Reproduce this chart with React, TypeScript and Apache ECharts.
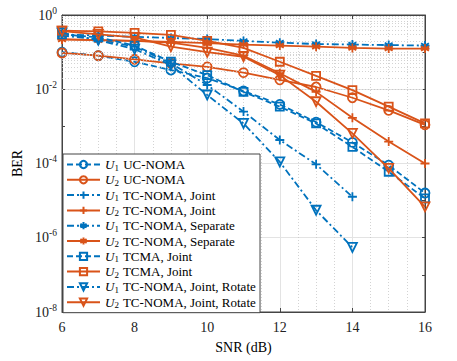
import React, { useEffect, useRef } from "react";
import * as echarts from "echarts";

const snr = [6, 7, 8, 9, 10, 11, 12, 13, 14, 15, 16];
const u1UC = [0.1, 0.08, 0.055, 0.033, 0.02, 0.009, 0.0039, 0.0013, 3.7e-4, 9e-5, 1.6e-5];
const u2UC = [0.095, 0.08, 0.064, 0.05, 0.04, 0.028, 0.018, 0.0115, 0.0059, 0.0027, 0.0011];
const u1Joint = [0.28, 0.22, 0.14, 0.05, 0.013, 0.0025, 4.3e-4, 9.5e-5, 1.27e-5];
const u2Joint = [0.22, 0.21, 0.2, 0.18, 0.13, 0.08, 0.027, 0.0085, 0.0017, 3.9e-4, 1e-4];
const u1Sep = [0.3, 0.28, 0.26, 0.24, 0.225, 0.2, 0.18, 0.165, 0.16, 0.155, 0.15];
const u2Sep = [0.22, 0.21, 0.2, 0.19, 0.175, 0.16, 0.15, 0.14, 0.13, 0.125, 0.125];
const u1TCMA = [0.3, 0.25, 0.15, 0.055, 0.024, 0.0085, 0.0034, 0.0012, 2.8e-4, 6e-5, 1.15e-5];
const u2TCMA = [0.38, 0.36, 0.33, 0.29, 0.2, 0.13, 0.055, 0.023, 0.0095, 0.0034, 0.0012];
const u1Rot = [0.33, 0.21, 0.12, 0.045, 0.007, 0.0012, 1.1e-4, 5.5e-6, 5.5e-7];
const u2Rot = [0.37, 0.3, 0.25, 0.14, 0.1, 0.075, 0.024, 0.0046, 6.5e-4, 7.4e-5, 6.8e-6];

const seriesNames = [
  "U1 UC-NOMA",
  "U2 UC-NOMA",
  "U1 TC-NOMA, Joint",
  "U2 TC-NOMA, Joint",
  "U1 TC-NOMA, Separate",
  "U2 TC-NOMA, Separate",
  "U1 TCMA, Joint",
  "U2 TCMA, Joint",
  "U1 TC-NOMA, Joint, Rotate",
  "U2 TC-NOMA, Joint, Rotate",
];
const seriesData = [u1UC, u2UC, u1Joint, u2Joint, u1Sep, u2Sep, u1TCMA, u2TCMA, u1Rot, u2Rot];

const BLUE = "#0072BD";
const ORANGE = "#D95319";
const FONT = "'Liberation Serif', 'Times New Roman', serif";

const PLUS = "path://M0,-1L0,1M-1,0L1,0";
const STAR = "path://M0,-1L0,1M-0.87,-0.5L0.87,0.5M-0.87,0.5L0.87,-0.5M-1,0L1,0";
const TRI_DOWN = "path://M-1,-0.85L1,-0.85L0,0.9Z";
const symbols = ["circle", "circle", PLUS, PLUS, STAR, STAR, "rect", "rect", TRI_DOWN, TRI_DOWN];
const dashU1: any[] = [[6, 3], [7, 3, 2, 3], [7, 3, 2, 3], [6, 3], [7, 3, 2, 3]];

export default function App() {
  const ref = useRef<HTMLDivElement>(null);
  useEffect(() => {
    if (!ref.current) return;
    const chart = echarts.init(ref.current, undefined, { renderer: "svg" });

    const minor: any[] = [];
    for (let n = -8; n < 0; n++) {
      for (let k = 2; k <= 9; k++) minor.push({ yAxis: k * Math.pow(10, n) });
      if (n % 2 !== 0) minor.push({ yAxis: Math.pow(10, n) });
    }

    const series: any[] = seriesNames.map((name, i) => {
      const isU1 = i % 2 === 0;
      const color = isU1 ? BLUE : ORANGE;
      const data = seriesData[i].map((v, j) => [snr[j], v]);
      return {
        name,
        type: "line",
        data,
        symbol: symbols[i],
        symbolSize: symbols[i] === "rect" ? 8 : 9,
        showSymbol: true,
        z: 3 + i,
        lineStyle: {
          color,
          width: 1.8,
          type: isU1 ? dashU1[i / 2] : "solid",
        },
        itemStyle: { color: "rgba(0,0,0,0)", borderColor: color, borderWidth: 1.8 },
      };
    });
    series.push({
      name: "__grid",
      type: "line",
      data: [],
      silent: true,
      markLine: {
        silent: true,
        symbol: ["none", "none"],
        label: { show: false },
        lineStyle: { color: "#c8c8c8", width: 0.8, type: [1, 2] },
        data: minor,
      },
      z: 1,
    });

    const rich = {
      i: { fontFamily: FONT, fontStyle: "italic", fontSize: 13, color: "#000" },
      sub: { fontFamily: FONT, fontSize: 9, color: "#000", padding: [6, 1, 0, 0] },
      t: { fontFamily: FONT, fontSize: 13, color: "#000" },
    };

    chart.setOption({
      animation: false,
      textStyle: { fontFamily: FONT },
      grid: {
        left: 62,
        right: 32,
        top: 15,
        bottom: 49,
        show: true,
        borderColor: "#444",
        borderWidth: 1,
      },
      legend: {
        data: seriesNames,
        orient: "vertical",
        left: 63,
        top: 154,
        itemWidth: 33,
        itemHeight: 9,
        itemGap: 1.3,
        padding: [4, 4, 3, 3],
        backgroundColor: "#fff",
        borderColor: "#444",
        borderWidth: 1,
        borderRadius: 0,
        formatter: (name: string) => {
          const u = name.slice(1, 2);
          return "{i|U}{sub|" + u + "}{t|" + name.slice(2) + "}";
        },
        textStyle: { fontFamily: FONT, rich, padding: [0, 0, 0, 0] },
      },
      xAxis: [
        {
          type: "value",
          min: 6,
          max: 16,
          interval: 2,
          name: "SNR (dB)",
          nameLocation: "middle",
          nameGap: 28,
          nameTextStyle: { fontFamily: FONT, fontSize: 14, color: "#000" },
          axisLine: { show: true, lineStyle: { color: "#444" } },
          axisTick: { inside: true, length: 4, lineStyle: { color: "#444" } },
          minorTick: { show: true, splitNumber: 4, length: 0 },
          axisLabel: { fontFamily: FONT, fontSize: 14, color: "#222", margin: 8 },
          splitLine: { show: true, lineStyle: { color: "#e3e3e3", width: 1 } },
          minorSplitLine: { show: true, lineStyle: { color: "#c8c8c8", width: 0.8, type: [1, 2] } },
        },
        {
          type: "value",
          position: "top",
          min: 6,
          max: 16,
          interval: 2,
          axisLine: { show: true, lineStyle: { color: "#444" } },
          axisTick: { inside: true, length: 4, lineStyle: { color: "#444" } },
          axisLabel: { show: false },
          splitLine: { show: false },
        },
      ],
      yAxis: [
        {
          type: "log",
          logBase: 10,
          min: 1e-8,
          max: 1,
          splitNumber: 8,
          name: "BER",
          nameLocation: "middle",
          nameGap: 37,
          nameRotate: 90,
          nameTextStyle: { fontFamily: FONT, fontSize: 14, color: "#000" },
          axisLine: { show: true, lineStyle: { color: "#444" } },
          axisTick: { inside: true, length: 3, lineStyle: { color: "#444" } },
          axisLabel: {
            margin: 5,
            fontFamily: FONT,
            formatter: (v: number) => {
              const e = Math.round(Math.log10(v));
              if (e % 2 !== 0) return "";
              return "{b|10}{s|" + e + "}";
            },
            rich: {
              b: { fontFamily: FONT, fontSize: 14, color: "#222" },
              s: { fontFamily: FONT, fontSize: 9.5, color: "#222", padding: [0, 0, 9, 0] },
            },
          },
          splitLine: { show: true, lineStyle: { color: ["#e3e3e3", "rgba(0,0,0,0)"], width: 1 } },
        },
        {
          type: "log",
          logBase: 10,
          position: "right",
          min: 1e-8,
          max: 1,
          splitNumber: 8,
          axisLine: { show: true, lineStyle: { color: "#444" } },
          axisTick: { inside: true, length: 3, lineStyle: { color: "#444" } },
          axisLabel: { show: false },
          splitLine: { show: false },
        },
      ],
      series,
    });
    return () => chart.dispose();
  }, []);
  return (
    <div
      ref={ref}
      style={{ position: "absolute", left: 0, top: 0, width: 457, height: 361 }}
    />
  );
}
